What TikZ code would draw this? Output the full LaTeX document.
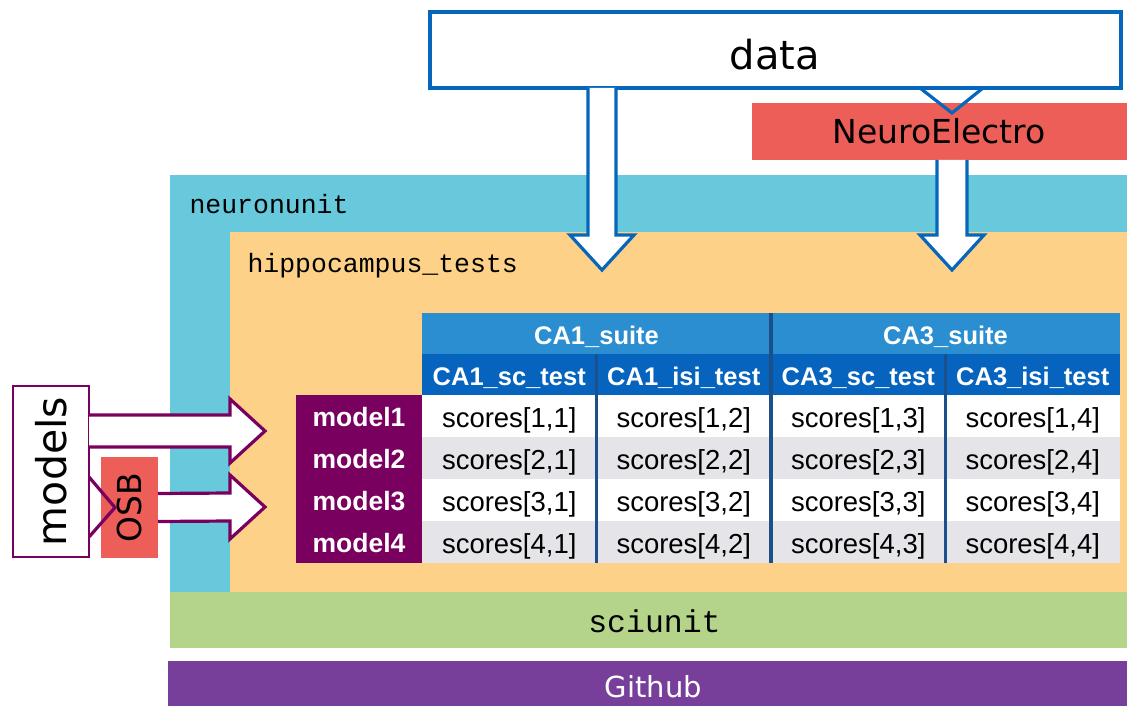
\documentclass[tikz,border=0pt]{standalone}
\usepackage{fontspec}
\setmainfont{Liberation Sans}
\setmonofont{Liberation Mono}
\newfontfamily\eurofont{DejaVu Sans}
\usetikzlibrary{calc}

\definecolor{nublue}{RGB}{104,201,221}
\definecolor{hcorange}{RGB}{253,209,136}
\definecolor{sugreen}{RGB}{180,212,138}
\definecolor{ghpurple}{RGB}{119,62,154}
\definecolor{nered}{RGB}{236,94,87}
\definecolor{datablue}{RGB}{6,102,188}
\definecolor{modpurple}{RGB}{122,0,96}
\definecolor{suiteblue}{RGB}{42,142,208}
\definecolor{testblue}{RGB}{6,100,190}
\definecolor{sepblue}{RGB}{28,80,138}
\definecolor{rowgray}{RGB}{229,229,233}

\begin{document}
\begin{tikzpicture}[x=1pt,y=-1pt]
  % Define styles for boxes and cells
  \tikzstyle{box} = [rectangle, anchor=north west, inner sep=0, outer sep=0]
  \tikzstyle{cell} = [rectangle, inner sep=0, outer sep=0, minimum width=174.5, minimum height=42, text height=22, text depth=0, font=\fontsize{27.5}{29}\selectfont]
  \tikzstyle{modelcell} = [rectangle, inner sep=0, outer sep=0, minimum width=126, minimum height=42, text height=21, text depth=0, fill=modpurple, text=white, font=\bfseries\fontsize{26.5}{28}\selectfont]
  \tikzstyle{headcell} = [rectangle, inner sep=0, outer sep=0, minimum height=41, text height=21, text depth=0, text=white, font=\bfseries\fontsize{25.5}{28}\selectfont]
  \tikzstyle{sep} = [sepblue, line width=3.5]
  \tikzstyle{bluearrow} = [draw=datablue, line width=3.2, fill=white, line join=miter]
  \tikzstyle{purplearrow} = [draw=modpurple, line width=3.2, fill=white, line join=miter]

  \useasboundingbox (0,0) rectangle (1127,706);

  % Layers of the software stack
  \node[box, fill=nublue, minimum width=957, minimum height=417] (neuronunit) at (170,175) {};
  \node[box, fill=hcorange, minimum width=897, minimum height=360] (hippo) at (230,232) {};
  \node[box, fill=sugreen, minimum width=957, minimum height=56] (sciunit) at (170,592) {};
  \node[box, fill=ghpurple, minimum width=959, minimum height=45] (github) at (168,661) {};
  \node[anchor=base west, font=\ttfamily\fontsize{26.5}{28}\selectfont] (nutext) at (186,213) {neuronunit};
  \node[anchor=base west, font=\ttfamily\fontsize{26.5}{28}\selectfont] (hctext) at (244,272) {hippocampus\_tests};
  \node[anchor=base, font=\ttfamily\fontsize{31.5}{32}\selectfont] (sutext) at ($(sciunit.center |- 0,632)+(6,0)$) {sciunit};
  \node[anchor=base, text=white, font=\eurofont\fontsize{29}{30}\selectfont] (ghtext) at ($(github.center |- 0,697)+(6,0)$) {Github};

  % Draw the table
  \node[headcell, fill=suiteblue, minimum width=349] (ca1) at (596.5,333.5) {CA1\_suite};
  \node[headcell, fill=suiteblue, minimum width=349] (ca3) at (945.5,333.5) {CA3\_suite};
  \foreach \col/\ttitle in {1/CA1\_sc\_test,2/CA1\_isi\_test,3/CA3\_sc\_test,4/CA3\_isi\_test} {
    \node[headcell, fill=testblue, minimum width=174.5] (t\col) at ({334.75+174.5*\col},374.5) {\ttitle};
  }
  \foreach \row/\shade in {1/white,2/rowgray,3/white,4/rowgray} {
    \node[modelcell] (m\row) at (359,{374+42*\row}) {model\row};
    \foreach \col in {1,...,4} {
      \node[cell, fill=\shade] (s\row\col) at ({334.75+174.5*\col},{374+42*\row}) {scores[\row,\col]};
    }
  }
  \draw[sep] (t2.north west) -- (s42.south west);
  \draw[sep] (ca3.north west) -- (s43.south west);
  \draw[sep] (t4.north west) -- (s44.south west);

  % Data sources
  \node[box, draw=datablue, line width=3.2, fill=white, minimum width=691, minimum height=76] (data) at (430,12) {};
  \node[anchor=base, font=\eurofont\fontsize{40}{42}\selectfont] (datatext) at (775,70) {data};
  \node[box, fill=nered, minimum width=375, minimum height=57] (neuro) at (752,103) {};
  \node[anchor=base, font=\eurofont\fontsize{33}{34}\selectfont] (netext) at (939,144) {NeuroElectro};

  \draw[datablue, line width=3.2, line join=miter]
    ($(data.south west)+(490,0)$) -- ($(neuro.north west)+(200,10)$) -- ($(data.south west)+(553,0)$);

  \coordinate (dA) at ($(data.south west)+(172,0)$);
  \coordinate (tA) at ($(hippo.north west)+(372,38)$);
  \draw[bluearrow] ($(dA)+(-14,0)$) -- ($(tA)+(-14,-35)$) -- ($(tA)+(-32,-35)$) -- (tA)
    -- ($(tA)+(32,-35)$) -- ($(tA)+(14,-35)$) -- ($(dA)+(14,0)$);

  \coordinate (dB) at ($(neuro.south west)+(200,0)$);
  \coordinate (tB) at ($(hippo.north west)+(722,38)$);
  \draw[bluearrow] ($(dB)+(-15,0)$) -- ($(tB)+(-15,-35)$) -- ($(tB)+(-32,-35)$) -- (tB)
    -- ($(tB)+(32,-35)$) -- ($(tB)+(15,-35)$) -- ($(dB)+(15,0)$);

  % Model sources
  \node[box, draw=modpurple, line width=2.8, fill=white, minimum width=76, minimum height=171] (models) at (13,386) {};
  \node[rotate=90, font=\eurofont\fontsize{41}{42}\selectfont] (mtext) at (models.center) {models};
  \node[box, fill=nered, minimum width=57, minimum height=101] (osb) at (101,457) {};
  \node[rotate=90, font=\eurofont\fontsize{33}{34}\selectfont] (otext) at (osb.center) {OSB};

  \draw[modpurple, line width=3.2, line join=miter]
    ($(models.north east)+(0,91)$) -- ($(osb.west)+(14,0)$) -- ($(models.north east)+(0,151)$);

  \coordinate (mA) at ($(models.north east)+(0,45)$);
  \coordinate (tM) at ($(hippo.north west)+(35,199)$);
  \draw[purplearrow] ($(mA)+(0,-16)$) -- ($(tM)+(-35,-16)$) -- ($(tM)+(-35,-32)$) -- (tM)
    -- ($(tM)+(-35,32)$) -- ($(tM)+(-35,16)$) -- ($(mA)+(0,16)$);

  \coordinate (oA) at (osb.east);
  \coordinate (tO) at ($(hippo.north west)+(35,275)$);
  \draw[purplearrow] ($(oA)+(0,-14)$) -- ($(tO)+(-35,-14)$) -- ($(tO)+(-35,-32)$) -- (tO)
    -- ($(tO)+(-35,32)$) -- ($(tO)+(-35,14)$) -- ($(oA)+(0,14)$);
\end{tikzpicture}
\end{document}
